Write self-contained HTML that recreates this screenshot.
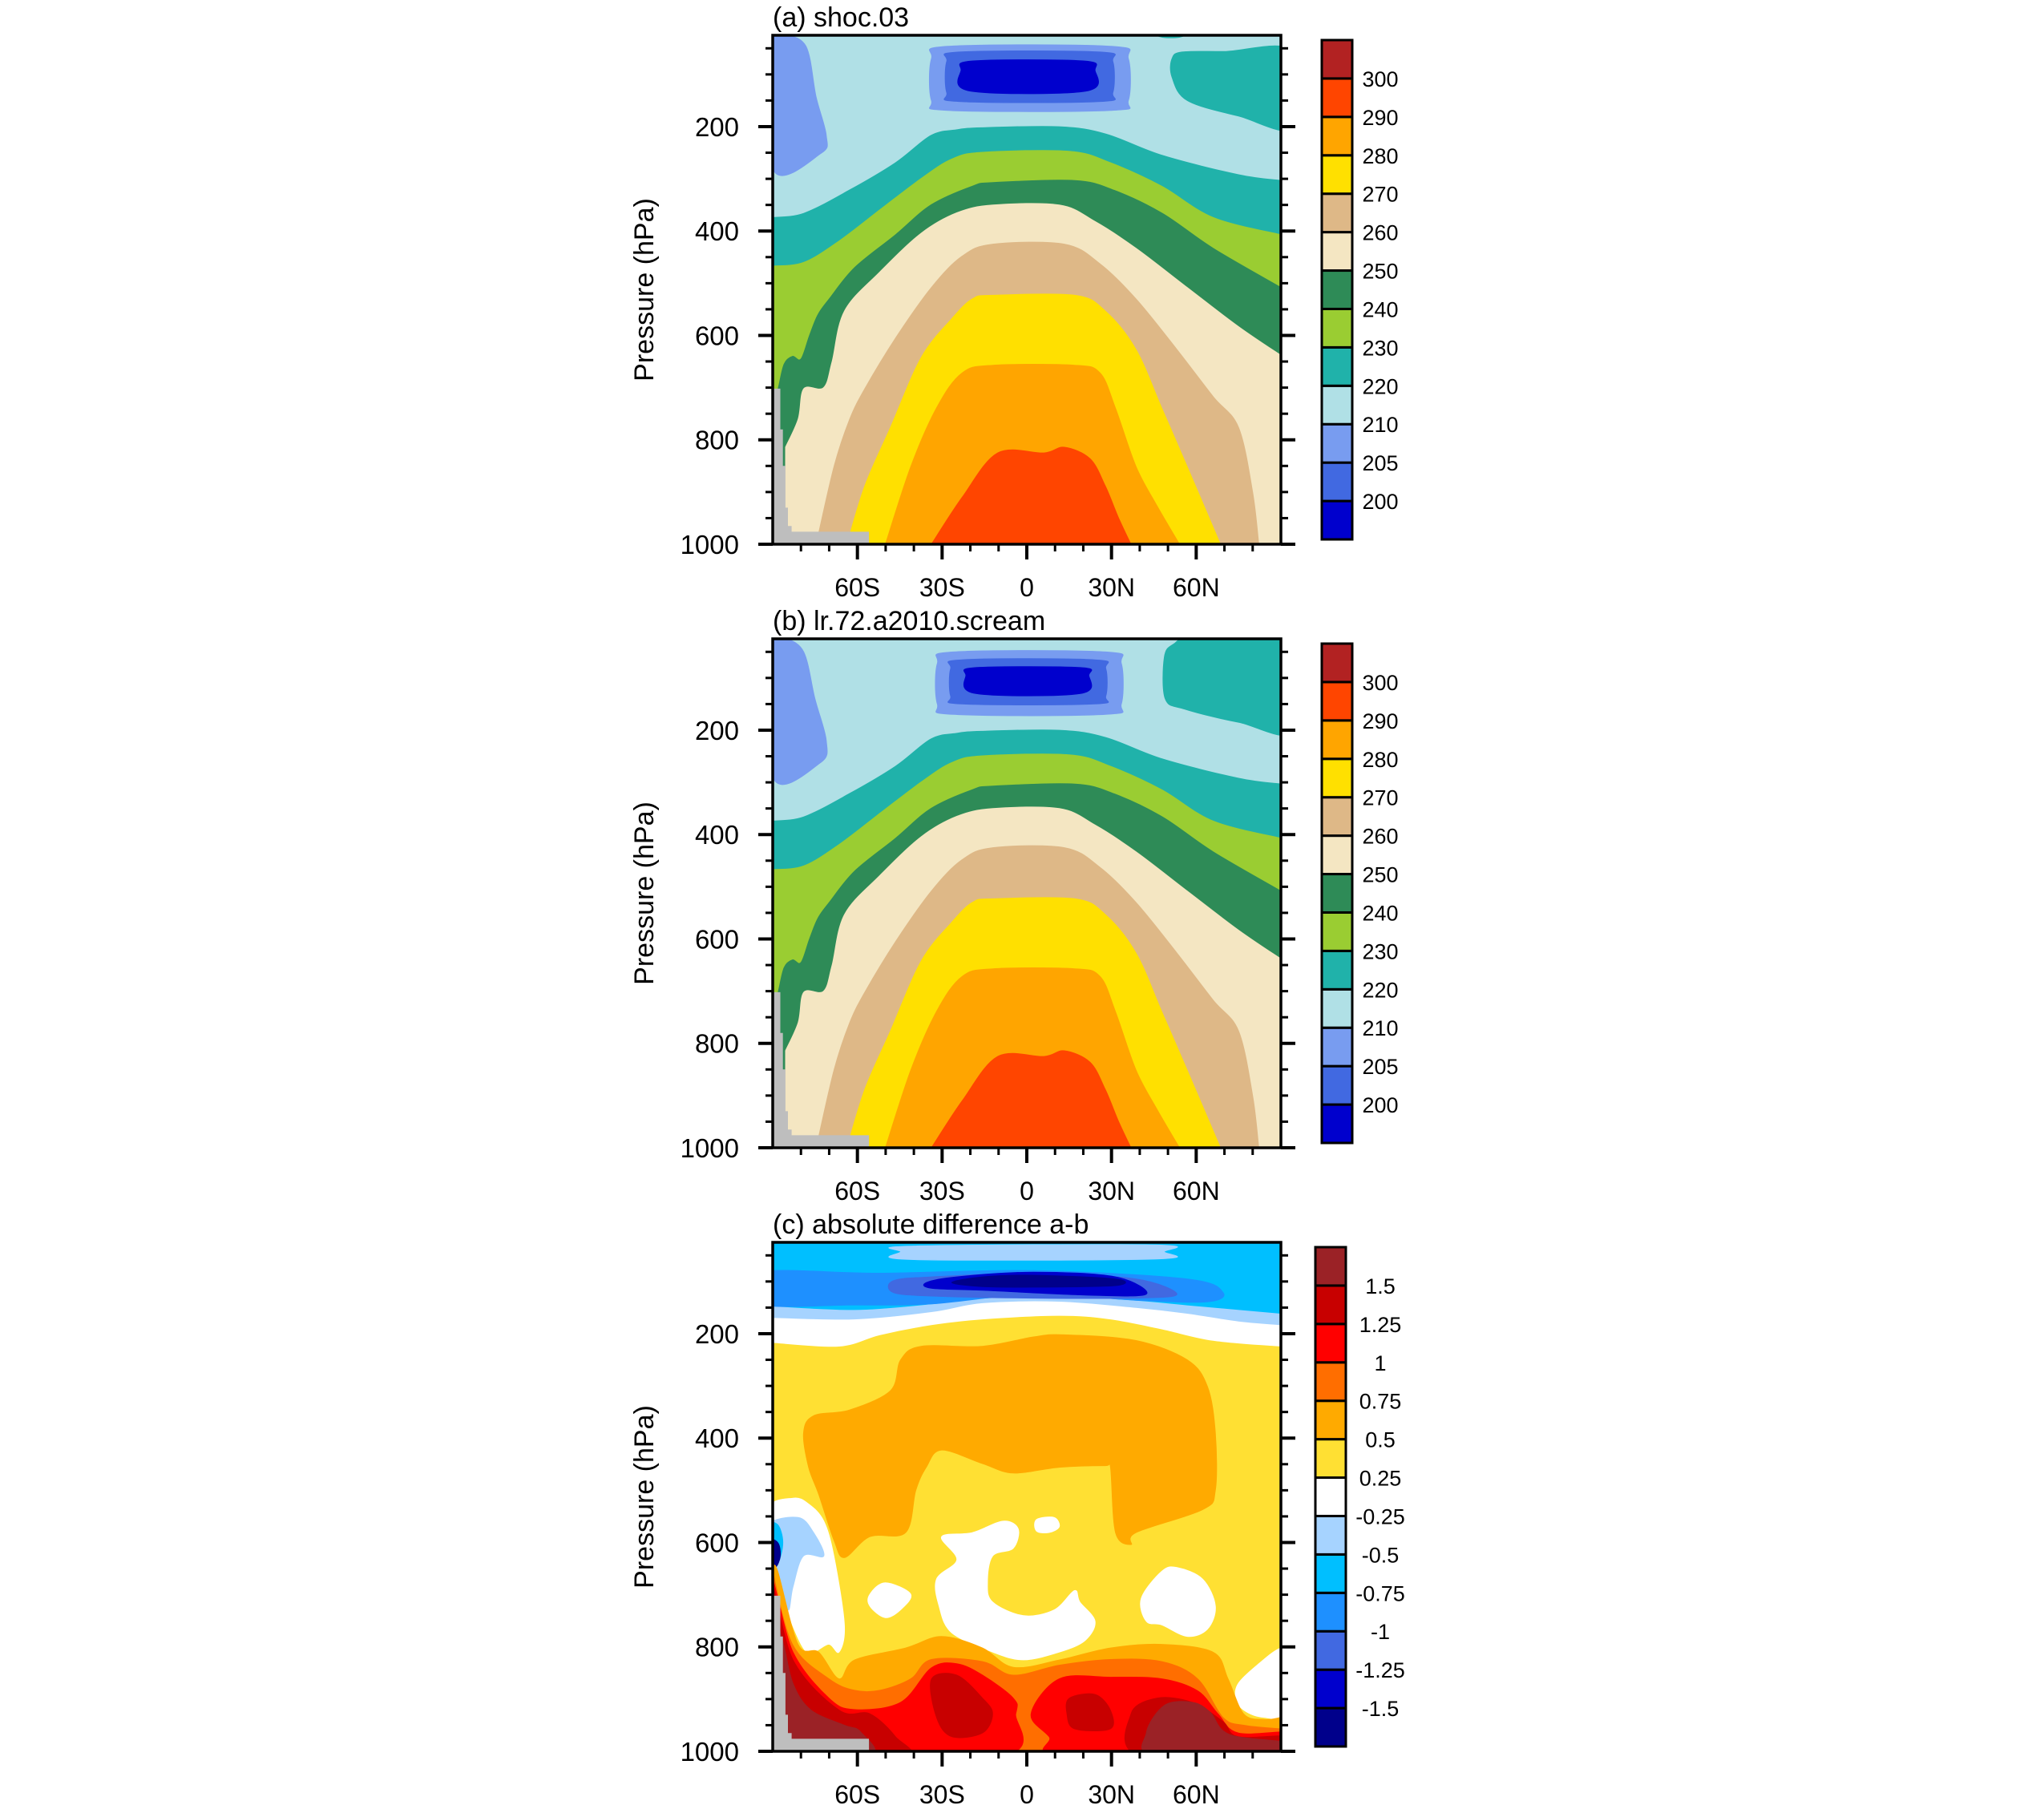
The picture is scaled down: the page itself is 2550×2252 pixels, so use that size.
<!DOCTYPE html>
<html><head><meta charset="utf-8">
<style>
html,body{margin:0;padding:0;background:#fff;}
svg{display:block;}
text{font-family:"Liberation Sans",Arial,sans-serif;fill:#000;}
</style></head>
<body>
<svg id="fig" width="2550" height="2252" viewBox="0 0 2550 2252" xmlns="http://www.w3.org/2000/svg"></svg>
<script>
// ---------- DATA (lat in degrees, p in hPa) ----------
const latTicks = [-60, -30, 0, 30, 60];
const latTickLabels = ['60S', '30S', '0', '30N', '60N'];
const presTicks = [200, 400, 600, 800, 1000];
const presTickLabels = ['200', '400', '600', '800', '1000'];

const tempLevelLabels = ['200','205','210','220','230','240','250','260','270','280','290','300'];
const tempColors = ['#0000CD','#4169E1','#789CF0','#B0E0E6','#20B2AA','#9ACD32','#2E8B57','#F4E6C2','#DEB887','#FFE000','#FFA500','#FF4500','#B22222'];
const diffLevelLabels = ['-1.5','-1.25','-1','-0.75','-0.5','-0.25','0.25','0.5','0.75','1','1.25','1.5'];
const diffColors = ['#00008B','#0000CD','#4169E1','#1E90FF','#00BFFF','#A6D3FF','#FFFFFF','#FFE033','#FFAA00','#FF6E00','#FF0000','#C80000','#9B2226'];

// panel (a) isotherm boundaries: region below each curve is warmer
const iso220 = [[-90,374],[-79,366],[-63,322],[-46.5,269],[-34,217],[-25,206],[-16,202],[11.5,200],[28,214],[48,255],[75,292],[90,303]];
const iso230 = [[-90,467],[-79,460],[-66.5,419],[-52,359],[-37.4,299],[-26.6,262],[-15.7,249],[15,247],[29.6,269],[47.8,314],[66,374],[90,407]];
const iso240 = [[-90,745],[-88,700],[-86,655],[-83,640],[-80,645],[-77,600],[-74,560],[-70,530],[-61,470],[-46.5,407],[-34,350],[-19.3,314],[-12,307],[17,303],[31,322],[48,366],[66,433],[90,508]];
const iso250 = [[-85.5,814],[-81,760],[-79,702],[-72,700],[-69,650],[-64.6,553],[-52,478],[-37.4,404],[-24.8,365],[-12,350],[11.5,350],[24,381],[38.7,433],[56.8,508],[75,583],[90,638]];
const iso260 = [[-74.6,1000],[-68.3,851],[-62.8,761],[-57.4,702],[-46.5,605],[-33.8,508],[-22.9,448],[-12,425],[13.3,425],[26,463],[38.7,530],[53.2,627],[66,717],[75,776],[80,900],[82.2,1000]];
const iso270 = [[-63.7,1000],[-57.4,888],[-48.3,776],[-37.4,642],[-26.6,568],[-19.3,530],[-12,523],[17,523],[27.8,553],[38.7,627],[47.8,739],[56.8,851],[68.6,1000]];
const iso280 = [[-50.1,1000],[-41.1,851],[-32,739],[-23,672],[-12,657],[17,657],[26,672],[31.4,739],[38.7,851],[46,925],[54.1,1000]];
const iso290 = [[-33.8,1000],[-22.9,910],[-10.3,825],[6.1,825],[13.3,814],[22.4,836],[27.8,888],[32.4,948],[36.9,1000]];
// panel (a) stratospheric closed regions
const aColdPatchWest = [[-90,20],[-86.4,22],[-78.2,46],[-74.6,143],[-71,217],[-72.8,251],[-90,281]];
const aWarmPatchEast = [[51.4,70],[55,57],[70,56],[95,56],[95,202],[75,180],[56.8,150],[51.4,105]];
const aWarmSpeck = [[46,22],[56,22],[54,29],[48,29]];
const aCold210 = [[-33.8,70],[-28,46],[30,46],[36,70],[36,150],[30,169],[-28,169],[-33.8,150]];
const aCold205 = [[-28.4,75],[-24,57],[26,57],[30.5,75],[30.5,135],[26,152],[-24,152],[-28.4,135]];
const aCold200 = [[-23.3,92],[-19,74],[20,74],[24.2,92],[21,132],[-20,132]];
// panel (b)
const bColdPatchWest = [[-90,20],[-86,22],[-79,50],[-75,140],[-71,220],[-73,262],[-90,290]];
const bWarmPatchEast = [[60,20],[95,20],[95,200],[75,185],[56,160],[49,140],[48.7,60],[52,35]];
const bCold210 = [[-31.7,72],[-26,50],[28,50],[33.5,72],[33.5,150],[28,170],[-26,170],[-31.7,150]];
const bCold205 = [[-27,82],[-23,65],[24,65],[28,82],[28,135],[24,150],[-23,150],[-27,135]];
const bCold200 = [[-21.6,95],[-18,80],[19,80],[22,95],[19,130],[-18,130]];
// topography mask
const topoMask = [[-90,702],[-87.3,702],[-87.3,780],[-86.4,780],[-86.4,850],[-85.5,850],[-85.5,930],[-84.6,930],[-84.6,965],[-83.3,965],[-83.3,976],[-55.9,976],[-55.9,1000],[-90,1000]];

// panel (c) difference regions
const dWhiteTop = [[-90,217],[-66.5,224],[-52,202],[-33.8,183],[-15.7,172],[11.5,165],[29.6,172],[47.8,191],[66,213],[90,224]];
const dLightTop = [[-90,169],[-61,172],[-33.8,158],[-15.7,141],[11.5,138],[38.7,150],[56.8,161],[75,176],[90,183]];
const dSkyTop = [[-90,147],[-61,154],[-33.8,143],[-15.7,132],[11.5,128],[38.7,136],[56.8,145],[90,161]];
const dDodger = [[-95,82.5],[-52,84],[2.4,79],[56.8,95],[69.5,121],[64,139],[38.7,136],[2.4,124.5],[-33.8,143],[-61,145],[-95,143]];
const dRoyal = [[-47.4,98.7],[-33.8,91],[2.4,84],[38.7,95],[53.2,124.5],[38.7,132],[2.4,132],[-33.8,128],[-47.4,121]];
const dMedium = [[-35.6,102],[-24.8,91],[2.4,82],[31.4,91],[42.3,124.5],[20.6,126],[-15.7,117],[-33.8,113]];
const dNavy = [[-26.6,102],[-15.7,91],[2.4,88],[31.4,95],[31.4,108],[2.4,111],[-15.7,110]];
const dLightCap = [[-44.7,43],[-41.1,32],[46,30],[48.7,43],[46,57],[-41.1,58]];
const dOrangeMid = [[-79.1,390],[-75.5,357],[-62.8,346],[-48.3,309],[-44.7,250],[-37.4,224],[-15.7,224],[2.4,206],[13.3,202],[38.7,213],[56.8,250],[64,301],[66.8,390],[66.8,500],[62.3,537],[38.7,581],[36.9,604],[31.4,581],[29.6,456],[27.8,453],[11.5,456],[-4.8,467],[-15.7,449],[-30.2,423],[-35.6,456],[-39.3,500],[-42.9,581],[-55.6,589],[-64.6,629],[-68.3,596],[-73.7,508],[-77.3,456]];
const dWhiteC = [[-30.2,589],[-19.3,581],[-8.4,559],[-3,574],[-4.8,611],[-12.1,626],[-13.9,677],[-12.1,714],[-1.2,740],[9.7,729],[16.9,692],[18.8,714],[24.2,751],[20.6,788],[11.5,810],[-1.2,825],[-12.1,810],[-26.6,773],[-31.1,722],[-32,670],[-24.8,633]];
const dWhiteDot = [[3.4,556],[9.7,552],[11.5,570],[7.9,581],[3.4,578]];
const dWhiteSW = [[-55.6,699],[-50.1,677],[-41.1,699],[-44.7,729],[-50.1,744],[-55.6,722]];
const dWhiteNE = [[40.5,707],[47.8,655],[53.2,648],[62.3,670],[66.8,722],[64,766],[56.8,780],[47.8,758],[42.3,751]];
const dWhiteFarNE = [[75,869],[82.2,832],[89.5,803],[95,803],[95,928],[84,935],[76.8,921],[74,898]];
const dWhiteWestEdge = [[-92,537],[-82.8,515],[-77.3,526],[-71.9,559],[-68.3,626],[-64.6,758],[-66.5,810],[-70.1,795],[-75.5,810],[-79.1,803],[-84.6,736],[-88.2,670],[-92,648]];
const dLightWestEdge = [[-92,567],[-81,552],[-75.5,581],[-71.9,626],[-79.1,626],[-82.8,685],[-84.6,729],[-88.2,655],[-92,633]];
const dSkyWestEdge = [[-92,570],[-88.2,566],[-86.4,600],[-88.2,640],[-92,645]];
const dNavyWestEdge = [[-92,596],[-88.2,600],[-87.3,626],[-89,648],[-92,648]];
const dOrangeLow = [[-90,650],[-88.2,655],[-81,795],[-73.7,810],[-66.5,861],[-61,825],[-42.9,802],[-30.2,780],[-15.7,802],[-4.8,839],[11.5,825],[29.6,802],[47.8,795],[66,810],[71.3,861],[76.8,928],[84,939],[90,935]];
const dDarkOrangeLow = [[-90,655],[-83,795],[-70.1,861],[-61,883],[-52,883],[-41.1,861],[-33.8,824],[-15.7,828],[-4.8,854],[11.5,835],[29.6,824],[47.8,828],[60.5,861],[69.5,935],[76.8,950],[90,957]];
const dRedWest = [[-92,658],[-82.8,810],[-70.1,898],[-61,920],[-44.7,906],[-33.8,840],[-24.8,832],[-15.7,854],[-4.8,898],[-3.9,928],[-9.3,1010],[-92,1010]];
const dRedEast = [[1.5,928],[11.5,861],[29.6,858],[47.8,861],[60.5,884],[67.7,928],[75,965],[95,965],[95,1010],[13.3,1010],[7.9,972]];
const dCrimsonWest = [[-92,660],[-82.8,825],[-66.5,921],[-55.6,928],[-46.5,972],[-43.8,1010],[-92,1010]];
const dCrimson30S = [[-33.8,862],[-24.8,854],[-15.7,898],[-12.1,928],[-15.7,965],[-26.6,972],[-32,935]];
const dCrimson30N = [[15.1,898],[24.2,891],[29.6,921],[29.6,957],[16.9,957],[14.2,928]];
const dCrimsonEast = [[36.9,928],[46,898],[58.6,906],[69.5,943],[75,972],[95,972],[95,1010],[40.5,1010]];
const dBrownWest = [[-92,700],[-86.4,790],[-82.8,870],[-76.4,921],[-64.6,950],[-59,962],[-55.6,1010],[-92,1010]];
const dBrownEast = [[42.3,965],[48.7,912],[58.6,906],[65,925],[72,968],[95,985],[95,1010],[46,1010]];

// ---------- LAYOUT ----------
const SVGNS = 'http://www.w3.org/2000/svg';
const svg = document.getElementById('fig');
const PL = 964, PR = 1598, PH = 635;
const P_TOP = 25, P_BOT = 1000;
function xs(lat){ return PL + (lat + 90) / 180 * (PR - PL); }
function ys(p, top){ return top + (p - P_TOP) / (P_BOT - P_TOP) * PH; }
function mk(tag, attrs, parent){
  const e = document.createElementNS(SVGNS, tag);
  for (const k in attrs) e.setAttribute(k, attrs[k]);
  (parent || svg).appendChild(e);
  return e;
}
function f(v){ return v.toFixed(1); }
// Catmull-Rom smoothing through the points
function smoothOpen(P){
  let d = '';
  for (let i = 0; i < P.length - 1; i++){
    const p0 = P[Math.max(i-1,0)], p1 = P[i], p2 = P[i+1], p3 = P[Math.min(i+2,P.length-1)];
    const c1 = [p1[0] + (p2[0]-p0[0])/6, p1[1] + (p2[1]-p0[1])/6];
    const c2 = [p2[0] - (p3[0]-p1[0])/6, p2[1] - (p3[1]-p1[1])/6];
    d += 'C' + f(c1[0]) + ',' + f(c1[1]) + ' ' + f(c2[0]) + ',' + f(c2[1]) + ' ' + f(p2[0]) + ',' + f(p2[1]);
  }
  return d;
}
function smoothClosed(P){
  const n = P.length;
  let d = 'M' + f(P[0][0]) + ',' + f(P[0][1]);
  for (let i = 0; i < n; i++){
    const p0 = P[(i-1+n)%n], p1 = P[i], p2 = P[(i+1)%n], p3 = P[(i+2)%n];
    const c1 = [p1[0] + (p2[0]-p0[0])/6, p1[1] + (p2[1]-p0[1])/6];
    const c2 = [p2[0] - (p3[0]-p1[0])/6, p2[1] - (p3[1]-p1[1])/6];
    d += 'C' + f(c1[0]) + ',' + f(c1[1]) + ' ' + f(c2[0]) + ',' + f(c2[1]) + ' ' + f(p2[0]) + ',' + f(p2[1]);
  }
  return d + 'Z';
}
function pathFrom(pts, top, mode){
  const P = pts.map(q => [xs(q[0]), ys(q[1], top)]);
  if (mode === 'closed') return smoothClosed(P);
  if (mode === 'poly') return 'M' + P.map(q => f(q[0]) + ',' + f(q[1])).join('L') + 'Z';
  const edge = mode === 'below' ? ys(P_BOT + 20, top) : ys(P_TOP - 20, top);
  const first = P[0], last = P[P.length-1];
  let d = 'M' + f(first[0]) + ',' + f(first[1]) + smoothOpen(P);
  const lx = last[0] >= PR - 1 ? PR + 20 : last[0];
  const fx = first[0] <= PL + 1 ? PL - 20 : first[0];
  d += 'L' + f(lx) + ',' + f(last[1]) + 'L' + f(lx) + ',' + f(edge) + 'L' + f(fx) + ',' + f(edge) + 'L' + f(fx) + ',' + f(first[1]) + 'Z';
  return d;
}

function drawPanel(idx, top, title, bg, layers, cbColors, cbLabels, cbX){
  const g = mk('g', {});
  
  
  const cp = mk('clipPath', {id: 'clip' + idx}, g);
  mk('rect', {x: PL, y: top, width: PR - PL, height: PH}, cp);
  const field = mk('g', {'clip-path': 'url(#clip' + idx + ')'}, g);
  
  
  const bgr = mk('rect', {x: PL, y: top, width: PR - PL, height: PH, fill: bg}, field);
  
  
  layers.forEach(L => {
    const pth = mk('path', {d: pathFrom(L[0], top, L[1]), fill: L[2], stroke: L[2], 'stroke-width': 0.8, 'stroke-linejoin': 'round'}, field);
    
    
  });
  const topo = mk('path', {d: pathFrom(topoMask, top, 'poly'), fill: '#BEBEBE'}, field);
  
  

  const fr = mk('rect', {x: PL, y: top, width: PR - PL, height: PH, fill: 'none', stroke: '#000', 'stroke-width': 3.5}, g);
  
  

  for (let p = 50; p <= 1000; p += 50){
    const major = presTicks.indexOf(p) >= 0;
    const len = major ? 18 : 9;
    const y = ys(p, top);
    const t1 = mk('line', {x1: PL - len, x2: PL, y1: y, y2: y, stroke: '#000', 'stroke-width': major ? 4 : 3}, g);
    
    
    const t2 = mk('line', {x1: PR, x2: PR + len, y1: y, y2: y, stroke: '#000', 'stroke-width': major ? 4 : 3}, g);
    
    
  }
  presTicks.forEach((p, i) => {
    const t = mk('text', {x: 922, y: ys(p, top) + 12, 'text-anchor': 'end', 'font-size': 33}, g);
    t.textContent = presTickLabels[i];
    
    
  });
  const yb = top + PH;
  for (let lat = -80; lat <= 80; lat += 10){
    const major = latTicks.indexOf(lat) >= 0;
    const t = mk('line', {x1: xs(lat), x2: xs(lat), y1: yb, y2: yb + (major ? 19 : 9), stroke: '#000', 'stroke-width': major ? 4 : 3}, g);
    
    
  }
  latTicks.forEach((lat, i) => {
    const t = mk('text', {x: xs(lat), y: yb + 65, 'text-anchor': 'middle', 'font-size': 32}, g);
    t.textContent = latTickLabels[i];
    
    
  });
  const yt = mk('text', {x: 0, y: 0, 'text-anchor': 'middle', 'font-size': 34, transform: 'translate(815,' + (top + PH / 2) + ') rotate(-90)'}, g);
  yt.textContent = 'Pressure (hPa)';
  
  
  const tt = mk('text', {x: PL, y: top - 11, 'font-size': 34}, g);
  tt.textContent = title;
  
  

  const cbTop = top + 6, cbH = PH - 12, n = cbColors.length, bh = cbH / n, cbW = 38;
  const cb = mk('g', {}, g);
  
  
  cbColors.forEach((c, i) => {
    const r = mk('rect', {x: cbX, y: cbTop + cbH - (i + 1) * bh, width: cbW, height: bh, fill: c, stroke: '#000', 'stroke-width': 3}, cb);
    
    
  });
  cbLabels.forEach((lab, i) => {
    const t = mk('text', {x: 1722, y: cbTop + cbH - (i + 1) * bh + 10, 'text-anchor': 'middle', 'font-size': 27}, cb);
    t.textContent = lab;
    
    
  });
}

const C = tempColors;
const tropoLayers = [
  [iso220, 'below', C[4], 'band-220-230'],
  [iso230, 'below', C[5], 'band-230-240'],
  [iso240, 'below', C[6], 'band-240-250'],
  [iso250, 'below', C[7], 'band-250-260'],
  [iso260, 'below', C[8], 'band-260-270'],
  [iso270, 'below', C[9], 'band-270-280'],
  [iso280, 'below', C[10], 'band-280-290'],
  [iso290, 'below', C[11], 'band-290-300']
];
const aLayers = [
  [aColdPatchWest, 'closed', C[2], 'cold-patch-west'],
  [aWarmPatchEast, 'closed', C[4], 'warm-patch-east'],
  [aWarmSpeck, 'closed', C[4], 'warm-speck'],
  [aCold210, 'closed', C[2], 'cold-core-210'],
  [aCold205, 'closed', C[1], 'cold-core-205'],
  [aCold200, 'closed', C[0], 'cold-core-200']
].concat(tropoLayers);
const bLayers = [
  [bColdPatchWest, 'closed', C[2], 'cold-patch-west'],
  [bWarmPatchEast, 'closed', C[4], 'warm-patch-east'],
  [bCold210, 'closed', C[2], 'cold-core-210'],
  [bCold205, 'closed', C[1], 'cold-core-205'],
  [bCold200, 'closed', C[0], 'cold-core-200']
].concat(tropoLayers);
const D = diffColors;
const cLayers = [
  [dWhiteTop, 'above', D[6], 'near-zero-band-top'],
  [dLightTop, 'above', D[5], 'band-neg-025'],
  [dSkyTop, 'above', D[4], 'band-neg-05'],
  [dDodger, 'closed', D[3], 'band-neg-075'],
  [dRoyal, 'closed', D[2], 'band-neg-1'],
  [dMedium, 'closed', D[1], 'band-neg-125'],
  [dNavy, 'closed', D[0], 'band-neg-15'],
  [dLightCap, 'closed', D[5], 'cap-neg-025'],
  [dOrangeMid, 'closed', D[8], 'mid-tropo-05'],
  [dWhiteC, 'closed', D[6], 'near-zero-c'],
  [dWhiteDot, 'closed', D[6], 'near-zero-dot'],
  [dWhiteSW, 'closed', D[6], 'near-zero-sw'],
  [dWhiteNE, 'closed', D[6], 'near-zero-ne'],
  [dWhiteFarNE, 'closed', D[6], 'near-zero-far-ne'],
  [dWhiteWestEdge, 'closed', D[6], 'near-zero-west'],
  [dLightWestEdge, 'closed', D[5], 'neg-west-light'],
  [dSkyWestEdge, 'closed', D[4], 'neg-west-sky'],
  [dNavyWestEdge, 'closed', D[0], 'neg-west-navy'],
  [dOrangeLow, 'below', D[8], 'low-05'],
  [dDarkOrangeLow, 'below', D[9], 'low-075'],
  [dRedWest, 'closed', D[10], 'low-1-west'],
  [dRedEast, 'closed', D[10], 'low-1-east'],
  [dCrimsonWest, 'closed', D[11], 'low-125-west'],
  [dCrimson30S, 'closed', D[11], 'low-125-30s'],
  [dCrimson30N, 'closed', D[11], 'low-125-30n'],
  [dCrimsonEast, 'closed', D[11], 'low-125-east'],
  [dBrownWest, 'closed', D[12], 'low-15-west'],
  [dBrownEast, 'closed', D[12], 'low-15-east']
];

drawPanel('a', 44, '(a) shoc.03', C[3], aLayers, tempColors, tempLevelLabels, 1649);
drawPanel('b', 797, '(b) lr.72.a2010.scream', C[3], bLayers, tempColors, tempLevelLabels, 1649);
drawPanel('c', 1550, '(c) absolute difference a-b', D[7], cLayers, diffColors, diffLevelLabels, 1641);
</script>
</body></html>
